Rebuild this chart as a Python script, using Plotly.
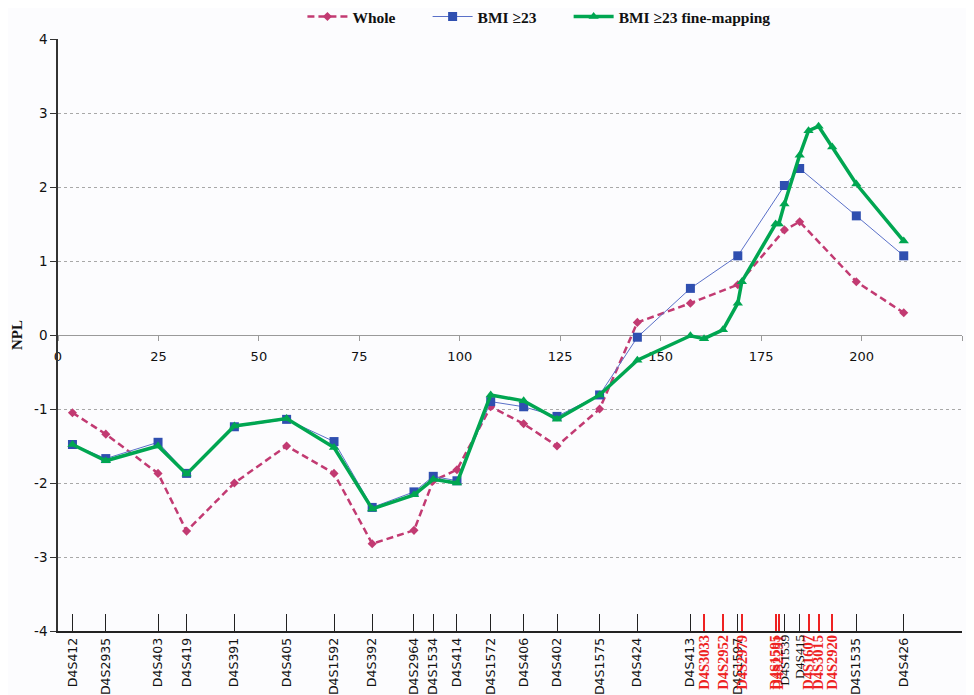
import plotly.graph_objects as go

# Marker map (cM positions) and labels
black_sans_names = ["D4S412", "D4S2935", "D4S403", "D4S419", "D4S391", "D4S405", "D4S1592",
                    "D4S392", "D4S2964", "D4S1534", "D4S414", "D4S1572", "D4S406", "D4S402",
                    "D4S1575", "D4S424", "D4S413", "D4S1597", "D4S1535", "D4S426"]
black_sans_pos = [3.6, 11.9, 24.9, 32.0, 43.9, 56.9, 68.7, 78.2, 88.6, 93.4, 99.3, 107.7, 115.9,
                  124.2, 134.8, 144.2, 157.4, 169.2, 198.7, 210.5]
black_serif_names = ["D4S1539", "D4S415"]
black_serif_pos = [180.8, 184.6]
red_names = ["D4S3033", "D4S2952", "D4S2979", "D4S1595", "D4S2291", "D4S1607", "D4S3015", "D4S2920"]
red_pos = [160.8, 165.5, 170.2, 178.6, 179.4, 186.8, 189.3, 192.7]

# Original markers (whole / BMI>=23)
orig_pos = [3.6, 11.9, 24.9, 32.0, 43.9, 56.9, 68.7, 78.2, 88.6, 93.4, 99.3, 107.7, 115.9,
            124.2, 134.8, 144.2, 157.4, 169.2, 180.8, 184.6, 198.7, 210.5]
whole_npl = [-1.05, -1.34, -1.87, -2.65, -2.00, -1.50, -1.87, -2.82, -2.64, -1.97, -1.82,
             -0.97, -1.20, -1.50, -1.00, 0.17, 0.43, 0.68, 1.42, 1.53, 0.72, 0.30]
bmi_npl = [-1.48, -1.67, -1.45, -1.87, -1.24, -1.14, -1.44, -2.33, -2.12, -1.91, -1.97,
           -0.90, -0.97, -1.10, -0.81, -0.03, 0.63, 1.07, 2.02, 2.25, 1.61, 1.07]

# Fine-mapping markers
fine_pos = [3.6, 11.9, 24.9, 32.0, 43.9, 56.9, 68.7, 78.2, 88.6, 93.4, 99.3, 107.7, 115.9,
            124.2, 134.8, 144.2, 157.4, 160.8, 165.5, 169.2, 170.2, 178.6, 179.4, 180.8,
            184.6, 186.8, 189.3, 192.7, 198.7, 210.5]
fine_npl = [-1.48, -1.70, -1.50, -1.88, -1.23, -1.13, -1.52, -2.35, -2.16, -1.95, -2.00,
            -0.81, -0.89, -1.14, -0.81, -0.34, -0.01, -0.05, 0.07, 0.43, 0.72, 1.50, 1.50,
            1.77, 2.43, 2.76, 2.82, 2.54, 2.04, 1.27]

x_ticks = [0, 25, 50, 75, 100, 125, 150, 175, 200, 225]
y_ticks = [-4, -3, -2, -1, 0, 1, 2, 3, 4]
y_tick_labels = ["-4", "-3", "-2", "-1", "0", "1", "2", "3", "4"]

series_names = ["Whole", "BMI ≥23", "BMI ≥23 fine-mapping"]
pad = "\u00a0" * 7

fig = go.Figure()
fig.add_trace(go.Scatter(x=orig_pos, y=whole_npl, name="<b>" + series_names[0] + "</b>" + pad,
                         mode="lines+markers",
                         line=dict(color="#c23a72", width=2.5, dash="7px,4px"),
                         marker=dict(symbol="diamond", size=7, color="#c23a72")))
fig.add_trace(go.Scatter(x=orig_pos, y=bmi_npl, name="<b>" + series_names[1] + "</b>" + pad,
                         mode="lines+markers",
                         line=dict(color="#5a70c8", width=1),
                         marker=dict(symbol="square", size=9, color="#2f4fb0")))
fig.add_trace(go.Scatter(x=fine_pos, y=fine_npl, name="<b>" + series_names[2] + "</b>",
                         mode="lines+markers",
                         line=dict(color="#00a651", width=3.5),
                         marker=dict(symbol="triangle-up", size=9, color="#00a651")))

# invisible traces to activate marker axes
for ax in ["x2", "x3", "x4"]:
    fig.add_trace(go.Scatter(x=[None], y=[None], xaxis=ax, showlegend=False, hoverinfo="skip"))

bg = "#fcfcfe"
fig.update_layout(
    width=966, height=687,
    margin=dict(l=50, r=12, t=31, b=64, autoexpand=False),
    paper_bgcolor=bg, plot_bgcolor=bg,
    showlegend=True,
    legend=dict(orientation="h", x=0.532, xanchor="center", yref="container", y=0.987, yanchor="middle",
                font=dict(family="Liberation Serif", size=15.5, color="#111"),
                bgcolor="rgba(0,0,0,0)", itemwidth=40, tracegroupgap=0),
    xaxis=dict(range=[0, 225], tickvals=x_ticks, anchor="free", position=0.5,
               showline=True, linecolor="#9a9a9a", linewidth=1,
               ticks="outside", ticklen=5, tickcolor="#9a9a9a", ticklabelstandoff=4,
               showgrid=False, zeroline=False, automargin=False,
               tickfont=dict(family="DejaVu Sans", size=13, color="#111"),
               layer="below traces"),
    xaxis2=dict(matches="x", overlaying="x", anchor="y", side="bottom",
                tickvals=black_sans_pos, ticktext=black_sans_names, tickangle=-90,
                ticks="inside", ticklen=17, tickcolor="#222", tickwidth=1, automargin=False,
                showline=True, linecolor="#222", linewidth=1.5, showgrid=False, zeroline=False,
                tickfont=dict(family="DejaVu Sans", size=12.5, color="#111")),
    xaxis3=dict(matches="x", overlaying="x", anchor="y", side="bottom",
                tickvals=red_pos, ticktext=["<b>" + n + "</b>" for n in red_names], tickangle=-90,
                ticks="inside", ticklen=17, tickcolor="#ee2222", tickwidth=2, automargin=False,
                showline=False, showgrid=False, zeroline=False,
                tickfont=dict(family="Liberation Serif", size=14.5, color="#ee2222")),
    xaxis4=dict(matches="x", overlaying="x", anchor="y", side="bottom",
                tickvals=black_serif_pos, ticktext=black_serif_names, tickangle=-90,
                ticks="inside", ticklen=17, tickcolor="#222", tickwidth=1, automargin=False,
                showline=False, showgrid=False, zeroline=False,
                tickfont=dict(family="Liberation Serif", size=13.5, color="#111")),
    yaxis=dict(range=[-4, 4], tickvals=y_ticks, ticktext=y_tick_labels,
               showline=True, linecolor="#333", linewidth=1.5,
               ticks="outside", ticklen=6, tickcolor="#333", automargin=False,
               showgrid=True, gridcolor="#a8a8a8", griddash="dot", gridwidth=1,
               zeroline=False,
               tickfont=dict(family="DejaVu Sans", size=13.5, color="#111"),
               title=dict(text="<b>NPL</b>", font=dict(family="Liberation Serif", size=15, color="#111"),
                          standoff=8)),
)

fig.write_html("out.html")
